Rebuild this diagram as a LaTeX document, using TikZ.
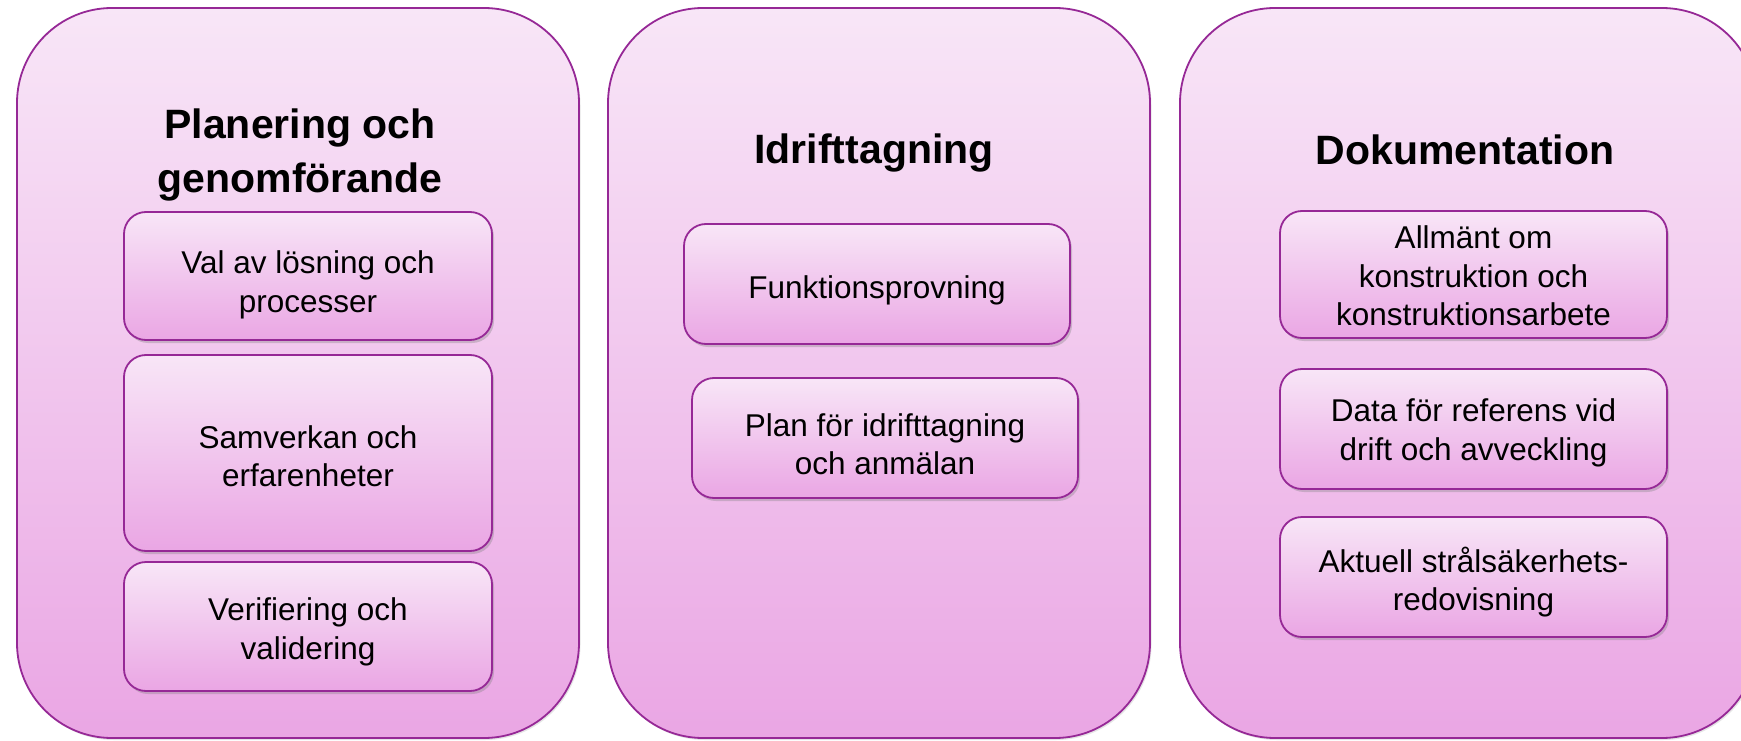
\documentclass[tikz,border=0pt]{standalone}
\usepackage{fontspec}
\setmainfont{Liberation Sans}
\usetikzlibrary{shadows}
\definecolor{bordc}{RGB}{150,40,150}
\definecolor{topc}{RGB}{248,230,247}
\definecolor{botc}{RGB}{234,166,228}
\tikzset{
  panel/.style={draw=bordc, line width=1.8pt, rounded corners=95pt, top color=topc, bottom color=botc,
    drop shadow={shadow xshift=1.5pt, shadow yshift=-2pt, opacity=0.2}},
  ttl/.style={align=center, font=\fontsize{41}{54}\selectfont\bfseries, inner sep=0pt},
  inbox/.style={draw=bordc, line width=1.8pt, rounded corners=22pt, top color=topc, bottom color=botc,
    inner sep=0pt, drop shadow={shadow xshift=2pt, shadow yshift=-3pt, opacity=0.35}},
  txt/.style={align=center, font=\fontsize{31.5}{38.5}\selectfont, inner sep=0pt},
}
\begin{document}
\begin{tikzpicture}[x=1pt,y=-1pt]
\useasboundingbox (0,0) rectangle (1741,741);
\fill[white] (0,0) rectangle (1741,741);
% panels
\path[panel] (17,8) rectangle (579,738);
\path[panel] (608,8) rectangle (1150,738);
\path[panel] (1180,8) rectangle (1757,738);
% titles
\node[ttl] (t1) at (300,155) {Planering och\\genomförande};
\node[ttl] (t2) at (874,153) {Idrifttagning};
\node[ttl] (t3) at (1465,150) {Dokumentation};
% panel 1 boxes
\node[inbox, minimum width=368pt, minimum height=128pt] (a1) at (308,276) {};
\node[txt] (a1t) at (308,285) {Val av lösning och\\processer};
\node[inbox, minimum width=368pt, minimum height=196pt] (a2) at (308,453) {};
\node[txt] (a2t) at (308,456) {Samverkan och\\erfarenheter};
\node[inbox, minimum width=368pt, minimum height=129pt] (a3) at (308,626.5) {};
\node[txt] (a3t) at (308,632) {Verifiering och\\validering};
% panel 2 boxes
\node[inbox, minimum width=386pt, minimum height=120pt] (b1) at (877,284) {};
\node[txt] (b1t) at (877,290) {Funktionsprovning};
\node[inbox, minimum width=386pt, minimum height=120pt] (b2) at (885,438) {};
\node[txt] (b2t) at (885,444) {Plan för idrifttagning\\och anmälan};
% panel 3 boxes
\node[inbox, minimum width=387pt, minimum height=127pt] (c1) at (1473.5,274.5) {};
\node[txt] (c1t) at (1473.5,276) {Allmänt om\\konstruktion och\\konstruktionsarbete};
\node[inbox, minimum width=387pt, minimum height=120pt] (c2) at (1473.5,429) {};
\node[txt] (c2t) at (1473.5,433) {Data för referens vid\\drift och avveckling};
\node[inbox, minimum width=387pt, minimum height=120pt] (c3) at (1473.5,577) {};
\node[txt] (c3t) at (1473.5,582) {Aktuell strålsäkerhets-\\redovisning};
\end{tikzpicture}
\end{document}
